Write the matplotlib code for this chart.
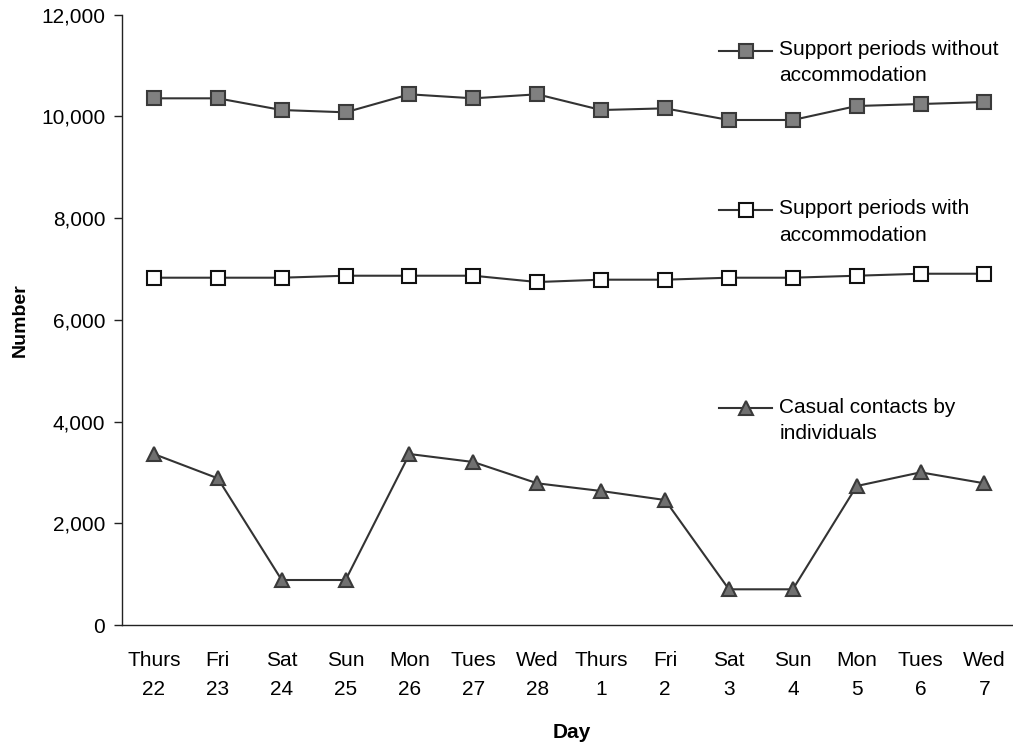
import matplotlib
matplotlib.use("Agg")
import matplotlib.pyplot as plt
from matplotlib.ticker import FuncFormatter

plt.rcParams['font.family'] = ['Liberation Sans', 'DejaVu Sans']

# Daily counts over the two weeks
days = ["Thurs\n22", "Fri\n23", "Sat\n24", "Sun\n25", "Mon\n26", "Tues\n27", "Wed\n28",
        "Thurs\n1", "Fri\n2", "Sat\n3", "Sun\n4", "Mon\n5", "Tues\n6", "Wed\n7"]
without_accom = [10356, 10356, 10126, 10081, 10435, 10356, 10435,
                 10126, 10159, 9930, 9930, 10205, 10244, 10283]
with_accom = [6829, 6829, 6829, 6868, 6868, 6868, 6744,
              6790, 6790, 6829, 6829, 6868, 6907, 6907]
casual = [3362, 2884, 885, 885, 3362, 3205, 2786,
          2635, 2458, 702, 702, 2733, 3002, 2786]

line_col = '#333333'

fig = plt.figure(figsize=(10.13, 7.47), dpi=100)
ax = fig.add_axes([0.1204, 0.1633, 0.883, 0.817])

x = range(len(days))
# values, marker, face colour, label, key height (axes fraction)
series = [
    (without_accom, 's', '#808080', 'Support periods without\naccommodation', 0.941),
    (with_accom, 's', 'white', 'Support periods with\naccommodation', 0.680),
    (casual, '^', '#707070', 'Casual contacts by\nindividuals', 0.355),
]

for vals, mk, face, label, ly in series:
    edge = '#111111' if face == 'white' else '#3a3a3a'
    ms = 9.5 if mk == 's' else 10
    ax.plot(x, vals, color=line_col, lw=1.5, marker=mk, ms=ms,
            markerfacecolor=face, markeredgecolor=edge, markeredgewidth=1.5,
            clip_on=False, zorder=3)
    # key drawn inside the plot area, text to its right
    ax.plot([0.668, 0.727], [ly, ly], transform=ax.transAxes, color=line_col, lw=1.5,
            clip_on=False)
    ax.plot([0.6975], [ly], transform=ax.transAxes, marker=mk, ms=ms,
            markerfacecolor=face, markeredgecolor=edge, markeredgewidth=1.5,
            clip_on=False)
    # baseline of the second line sits below the key
    ax.text(0.735, ly - 0.050, label, transform=ax.transAxes, fontsize=15,
            va='baseline', ha='left', linespacing=1.47)

ax.set_xlim(-0.5, len(days) - 0.5)
ax.set_ylim(0, 12000)
ax.set_yticks(range(0, 12001, 2000))
ax.yaxis.set_major_formatter(FuncFormatter(lambda v, p: f"{int(v):,}"))
ax.set_xticks(list(x))
ax.set_xticklabels(days, linespacing=1.66)

for s in ['top', 'right']:
    ax.spines[s].set_visible(False)
for s in ['left', 'bottom']:
    ax.spines[s].set_color('#222222')
    ax.spines[s].set_linewidth(1.0)

ax.tick_params(axis='y', length=6, width=1.0, color='#222222', pad=6, labelsize=15)
ax.tick_params(axis='x', length=0, pad=19, labelsize=15)

ax.set_ylabel('Number', fontsize=14, fontweight='bold')
ax.yaxis.set_label_coords(-0.104, 0.5)
ax.set_xlabel('Day', fontsize=15, fontweight='bold', va='top')
ax.xaxis.set_label_coords(0.503, -0.160)

fig.savefig('out.png', dpi=100)
